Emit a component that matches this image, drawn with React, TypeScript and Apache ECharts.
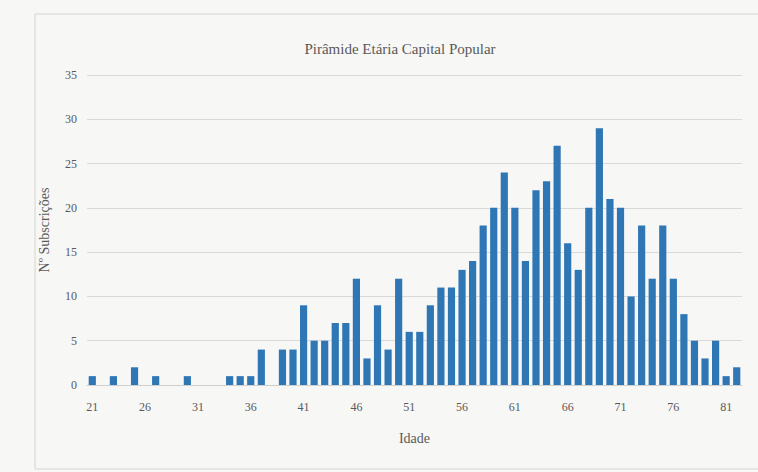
import React, { useEffect, useRef } from "react";
import * as echarts from "echarts";

const ages: string[] = [];
for (let a = 21; a <= 82; a++) ages.push(String(a));

const subscricoes: number[] = [
  1, 0, 1, 0, 2, 0, 1, 0, 0, 1, // 21-30
  0, 0, 0, 1, 1, 1, 4, 0, 4, 4, // 31-40
  9, 5, 5, 7, 7, 12, 3, 9, 4, 12, // 41-50
  6, 6, 9, 11, 11, 13, 14, 18, 20, 24, // 51-60
  20, 14, 22, 23, 27, 16, 13, 20, 29, 21, // 61-70
  20, 10, 18, 12, 18, 12, 8, 5, 3, 5, // 71-80
  1, 2, // 81-82
];

const titleText = "Pirâmide Etária Capital Popular";
const yAxisTitle = "Nº Subscrições";
const xAxisTitle = "Idade";

const FONT = "'Liberation Serif', 'DejaVu Serif', serif";
const GRAY = "#595959";

export default function App() {
  const ref = useRef<HTMLDivElement>(null);
  useEffect(() => {
    if (!ref.current) return;
    const chart = echarts.init(ref.current, undefined, { renderer: "svg" });
    chart.setOption({
      animation: false,
      backgroundColor: "#f7f7f5",
      graphic: [
        {
          type: "rect",
          shape: { x: 35, y: 14, width: 740, height: 455 },
          style: { fill: "none", stroke: "#d4d4d4", lineWidth: 1 },
          silent: true,
        },
        {
          type: "text",
          x: 400,
          y: 49,
          style: {
            text: titleText,
            textAlign: "center",
            textVerticalAlign: "middle",
            fontFamily: FONT,
            fontSize: 15,
            fill: GRAY,
          },
          silent: true,
        },
      ],
      grid: { left: 87, right: 16, top: 75, bottom: 87 },
      xAxis: {
        type: "category",
        data: ages,
        name: xAxisTitle,
        nameLocation: "middle",
        nameGap: 46,
        nameTextStyle: { fontFamily: FONT, fontSize: 14, color: GRAY },
        axisTick: { show: false },
        axisLine: { lineStyle: { color: "#cfcfcf" } },
        axisLabel: { interval: 4, fontFamily: FONT, fontSize: 12, color: GRAY, margin: 16 },
      },
      yAxis: {
        type: "value",
        min: 0,
        max: 35,
        interval: 5,
        name: yAxisTitle,
        nameLocation: "middle",
        nameGap: 36,
        nameRotate: 90,
        nameTextStyle: { fontFamily: FONT, fontSize: 14, color: GRAY },
        axisLine: { show: false },
        axisTick: { show: false },
        axisLabel: { fontFamily: FONT, fontSize: 12, color: GRAY, margin: 10 },
        splitLine: { lineStyle: { color: "#d9d9d9" } },
      },
      series: [
        {
          type: "bar",
          data: subscricoes,
          barCategoryGap: "32%",
          itemStyle: { color: "#2f76b5" },
        },
      ],
    });
    return () => chart.dispose();
  }, []);
  return (
    <div
      ref={ref}
      style={{ position: "absolute", left: 0, top: 0, width: 758, height: 472 }}
    />
  );
}
